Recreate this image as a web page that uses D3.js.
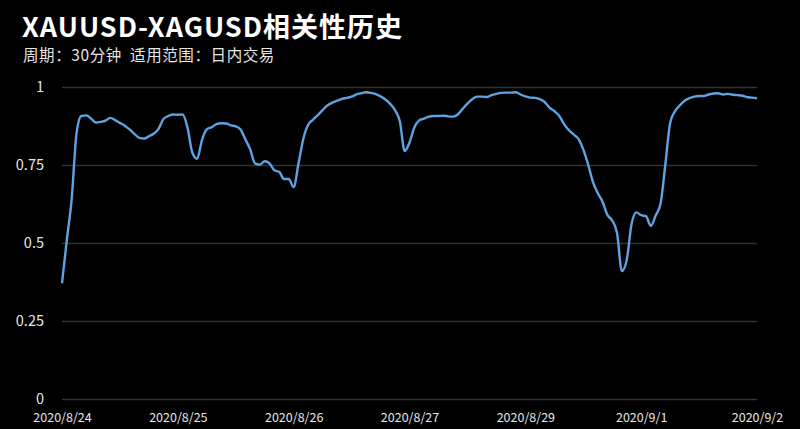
<html>

<body style="margin:0;background:#000">
    <script src="https://d3js.org/d3.v7.min.js"></script>
    <div id="main"></div>

    <script>
        // chart data: 30 min correlation, one label every 24 points
        var dayLabels = ["2020/8/24", "2020/8/25", "2020/8/26", "2020/8/27", "2020/8/29", "2020/9/1", "2020/9/2"];
        var labelStep = 24;
        var yTicks = [0, 0.25, 0.5, 0.75, 1];
        var yTickLabels = ["0", "0.25", "0.5", "0.75", "1"];

        var corr = [
            0.371, 0.51, 0.64, 0.85, 0.907, 0.909, 0.899, 0.886, 0.888, 0.892,
            0.901, 0.894, 0.885, 0.876, 0.864, 0.850, 0.837, 0.835, 0.842, 0.850,
            0.866, 0.897, 0.907, 0.912, 0.911, 0.912, 0.87, 0.79, 0.77, 0.83,
            0.864, 0.871, 0.881, 0.884, 0.883, 0.877, 0.874, 0.864, 0.832, 0.80,
            0.755, 0.751, 0.762, 0.755, 0.733, 0.728, 0.705, 0.705, 0.679, 0.755,
            0.834, 0.879, 0.895, 0.91, 0.926, 0.941, 0.95, 0.956, 0.962, 0.965,
            0.969, 0.976, 0.980, 0.983, 0.981, 0.977, 0.970, 0.96, 0.946, 0.926,
            0.89, 0.795, 0.822, 0.87, 0.893, 0.899, 0.905, 0.907, 0.907, 0.908,
            0.906, 0.905, 0.912, 0.93, 0.947, 0.961, 0.969, 0.969, 0.968, 0.974,
            0.978, 0.981, 0.982, 0.982, 0.983, 0.976, 0.970, 0.966, 0.965, 0.961,
            0.952, 0.934, 0.923, 0.908, 0.882, 0.862, 0.848, 0.834, 0.80, 0.752,
            0.696, 0.66, 0.632, 0.59, 0.572, 0.532, 0.41, 0.445, 0.56, 0.598,
            0.589, 0.586, 0.555, 0.588, 0.625, 0.75, 0.885, 0.922, 0.941, 0.956,
            0.964, 0.969, 0.971, 0.971, 0.976, 0.979, 0.980, 0.976, 0.978, 0.975,
            0.974, 0.972, 0.967, 0.966, 0.964
        ];

        var W = 800, H = 429;
        var margin = { top: 87, right: 43, bottom: 30, left: 62 },
            width = W - margin.left - margin.right,
            height = H - margin.top - margin.bottom;

        var font = "'Noto Sans CJK SC', 'Noto Sans', sans-serif";

        var root = d3.select("#main")
            .append("svg")
            .attr("width", W)
            .attr("height", H)
            .style("background", "#000")
            .style("font-family", font);

        // titles
        root.append("text")
            .attr("x", 22)
            .attr("y", 37)
            .attr("fill", "#fff")
            .style("font-size", "27px")
            .style("font-weight", "bold")
            .style("letter-spacing", "1px")
            .text("XAUUSD-XAGUSD相关性历史");

        root.append("text")
            .attr("x", 23)
            .attr("y", 61)
            .attr("fill", "#e6e6e6")
            .style("font-size", "15.5px")
            .style("white-space", "pre")
            .style("letter-spacing", "0.6px")
            .text("周期：30分钟  适用范围：日内交易");

        var svg = root.append("g")
            .attr("transform", "translate(" + margin.left + "," + margin.top + ")");

        var x = d3.scaleLinear()
            .domain([0, corr.length - 1])
            .range([0, width]);

        var y = d3.scaleLinear()
            .domain([0, 1])
            .range([height, 0]);

        // Y axis with grid lines
        var yAxis = svg.append("g")
            .call(d3.axisLeft(y)
                .tickValues(yTicks)
                .tickSize(-width)
                .tickPadding(18)
                .tickFormat(function (d, i) { return yTickLabels[i]; }));
        yAxis.select(".domain").remove();
        yAxis.selectAll(".tick line").attr("stroke", "#333").attr("stroke-width", 1.5);
        yAxis.selectAll(".tick text")
            .attr("fill", "#e6e6e6")
            .style("font-size", "14.5px")
            .style("font-family", font);

        // X axis, one label per trading day
        var xAxis = svg.append("g")
            .attr("transform", "translate(0," + height + ")")
            .call(d3.axisBottom(x)
                .tickValues(dayLabels.map(function (d, i) { return i * labelStep; }))
                .tickSize(0)
                .tickPadding(14)
                .tickFormat(function (d, i) { return dayLabels[i]; }));
        xAxis.select(".domain").remove();
        xAxis.selectAll(".tick text")
            .attr("fill", "#e6e6e6")
            .style("font-size", "12.5px")
            .style("font-family", font);

        // the correlation line
        var line = d3.line()
            .x(function (d, i) { return x(i); })
            .y(function (d) { return y(d); })
            .curve(d3.curveMonotoneX);

        svg.append("path")
            .datum(corr)
            .attr("fill", "none")
            .attr("stroke", "#5ea3e2")
            .attr("stroke-width", 2.4)
            .attr("stroke-linejoin", "round")
            .attr("d", line);
    </script>
</body>

</html>
